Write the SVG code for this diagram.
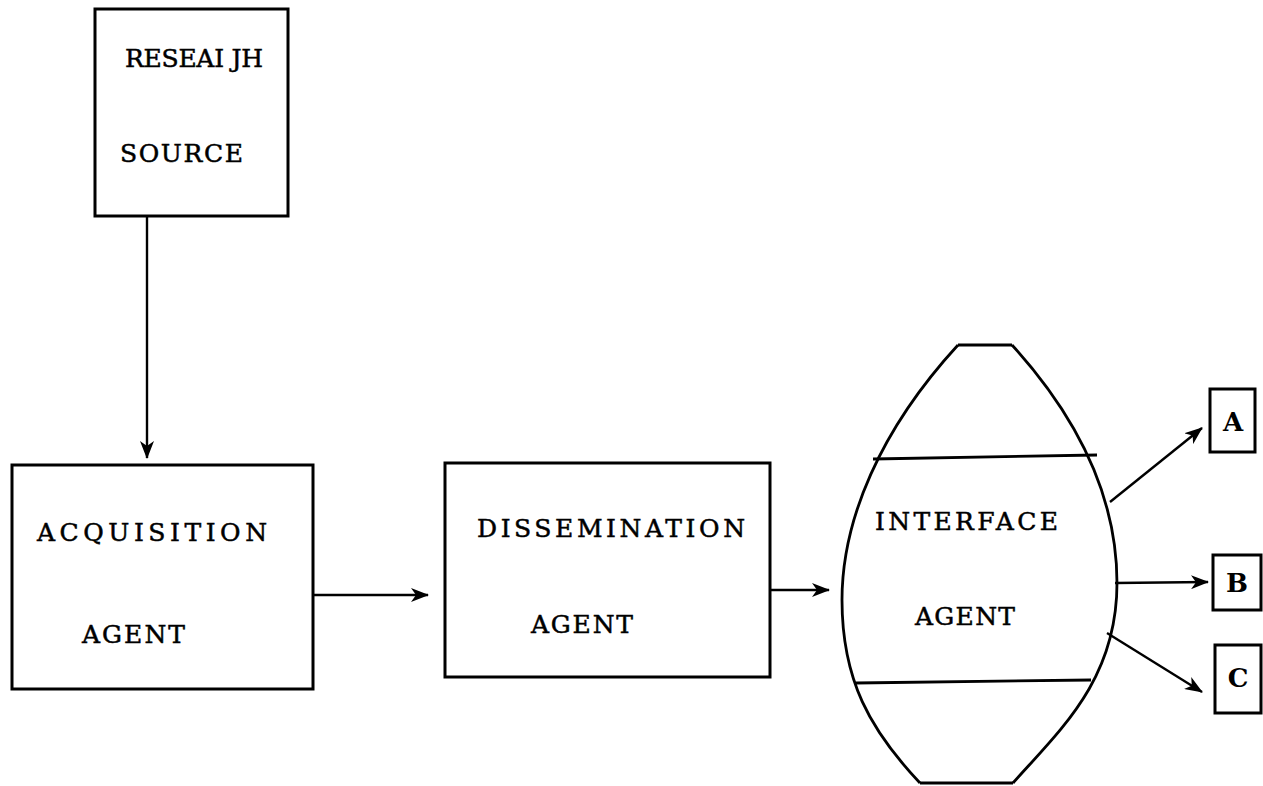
<svg xmlns="http://www.w3.org/2000/svg" width="1263" height="786" viewBox="0 0 1263 786">
<style>
.box{fill:none;stroke:#000;stroke-width:3}
.line{fill:none;stroke:#000;stroke-width:2.8}
.conn{fill:none;stroke:#000;stroke-width:2.4}
text{font-family:"DejaVu Serif","Liberation Serif",serif;font-size:25px;fill:#000;stroke:#000;stroke-width:0.5;text-anchor:start}
.small{font-size:26px;font-weight:bold;stroke-width:0;text-anchor:middle}
</style>
<defs>
<marker id="ah" viewBox="0 0 18 14" refX="17" refY="7" markerWidth="18" markerHeight="14" markerUnits="userSpaceOnUse" orient="auto">
<path d="M0,0 L18,7 L0,14 L5,7 Z" fill="#000"/>
</marker>
</defs>
<rect width="1263" height="786" fill="#fff"/>
<g id="research-source">
<rect class="box" x="95" y="9" width="193" height="207"/>
<text x="125" y="67" textLength="138" lengthAdjust="spacing">RESEAI JH</text>
<text x="120" y="162" textLength="123" lengthAdjust="spacing">SOURCE</text>
</g>
<g id="acquisition-agent">
<rect class="box" x="12" y="465" width="301" height="224"/>
<text x="37" y="541" textLength="230" lengthAdjust="spacing">ACQUISITION</text>
<text x="82" y="643" textLength="103" lengthAdjust="spacing">AGENT</text>
</g>
<g id="dissemination-agent">
<rect class="box" x="445" y="463" width="325" height="214"/>
<text x="477" y="537" textLength="268" lengthAdjust="spacing">DISSEMINATION</text>
<text x="531" y="633" textLength="102" lengthAdjust="spacing">AGENT</text>
</g>
<g id="interface-agent">
<path class="line" d="M958,345 C880,430 842,520 842,600 C842,680 870,730 920,783"/>
<path class="line" d="M1012,345 C1080,420 1117,500 1117,583 C1117,680 1060,730 1013,783"/>
<line class="box" x1="958" y1="345" x2="1012" y2="345" stroke-width="4"/>
<line class="box" x1="920" y1="783" x2="1013" y2="783" stroke-width="4"/>
<line class="line" x1="873" y1="459" x2="1097" y2="455"/>
<line class="line" x1="856" y1="683" x2="1091" y2="680"/>
<text x="875" y="530" textLength="183" lengthAdjust="spacing">INTERFACE</text>
<text x="915" y="625" textLength="100" lengthAdjust="spacing">AGENT</text>
</g>
<g id="box-a">
<rect class="box" x="1210" y="389" width="45" height="63"/>
<text class="small" x="1233" y="431">A</text>
</g>
<g id="box-b">
<rect class="box" x="1213" y="555" width="48" height="55"/>
<text class="small" x="1237" y="592">B</text>
</g>
<g id="box-c">
<rect class="box" x="1215" y="645" width="46" height="68"/>
<text class="small" x="1238" y="687">C</text>
</g>
<g id="connectors">
<line class="conn" x1="147" y1="216" x2="147" y2="458" marker-end="url(#ah)"/>
<line class="conn" x1="313" y1="595" x2="428" y2="595" marker-end="url(#ah)"/>
<line class="conn" x1="770" y1="590" x2="829" y2="590" marker-end="url(#ah)"/>
<line class="conn" x1="1110" y1="502" x2="1202" y2="428" marker-end="url(#ah)"/>
<line class="conn" x1="1115" y1="583" x2="1208" y2="582" marker-end="url(#ah)"/>
<line class="conn" x1="1107" y1="633" x2="1202" y2="692" marker-end="url(#ah)"/>
</g>
</svg>
